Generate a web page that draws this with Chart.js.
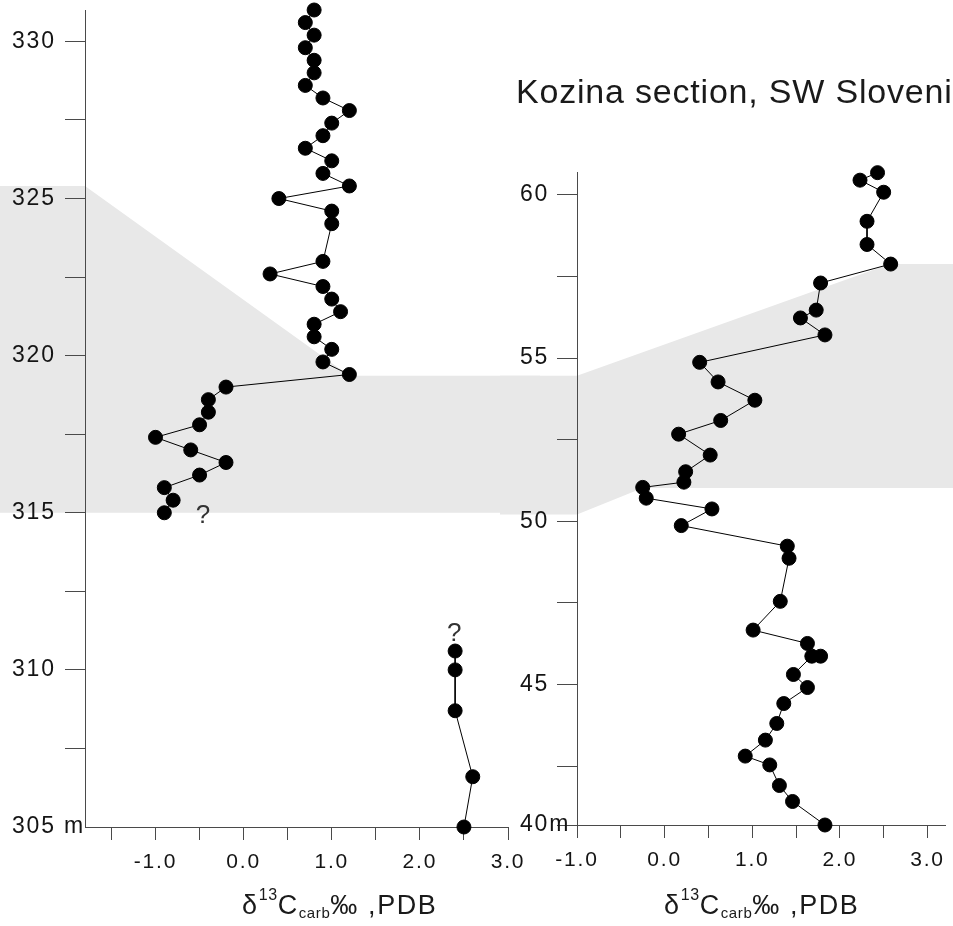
<!DOCTYPE html>
<html>
<head>
<meta charset="utf-8">
<script src="https://cdn.jsdelivr.net/npm/chart.js@4.4.1/dist/chart.umd.min.js"></script>
<style>
html, body { margin: 0; padding: 0; background: #fff; overflow: hidden; }
body { width: 953px; height: 926px; position: relative; font-family: "Liberation Sans", Arial, sans-serif; color: #1a1a1a; }
#leftChart { position: absolute; left: 0; top: 0; }
#rightChart { position: absolute; left: 500px; top: 0; }
.axis-title { position: absolute; top: 892px; font-size: 27px; line-height: 27px; letter-spacing: 1.6px; white-space: nowrap; }
.axis-title sup, .axis-title sub { line-height: 0; vertical-align: baseline; position: relative; letter-spacing: 0.6px; }
.axis-title sup { font-size: 16px; top: -14px; }
.axis-title sub { font-size: 15px; top: 4px; }
#sectionTitle { position: absolute; left: 516px; top: 74px; font-size: 34px; line-height: 34px; letter-spacing: 0.8px; white-space: nowrap; }
</style>
</head>
<body>
<canvas id="leftChart" width="540" height="926"></canvas>
<canvas id="rightChart" width="453" height="926"></canvas>
<div id="sectionTitle">Kozina section, SW Slovenia</div>
<div class="axis-title" style="left:242px">δ<sup>13</sup>C<sub>carb</sub>‰ ,PDB</div>
<div class="axis-title" style="left:664px">δ<sup>13</sup>C<sub>carb</sub>‰ ,PDB</div>
<script>
// left column, upper interval (m)
var upperDepth = [331.0, 330.6, 330.2, 329.8, 329.4, 329.0, 328.6, 328.2, 327.8, 327.4,
                  327.0, 326.6, 326.2, 325.8, 325.4, 325.0, 324.6, 324.2, 323.0, 322.6,
                  322.2, 321.8, 321.4, 321.0, 320.6, 320.2, 319.8, 319.4, 319.0, 318.6,
                  318.2, 317.8, 317.4, 317.0, 316.6, 316.2, 315.8, 315.4, 315.0];
var upperC13 = [0.8, 0.7, 0.8, 0.7, 0.8, 0.8, 0.7, 0.9, 1.2, 1.0,
                0.9, 0.7, 1.0, 0.9, 1.2, 0.4, 1.0, 1.0, 0.9, 0.3,
                0.9, 1.0, 1.1, 0.8, 0.8, 1.0, 0.9, 1.2, -0.2, -0.4,
                -0.4, -0.5, -1.0, -0.6, -0.2, -0.5, -0.9, -0.8, -0.9];

// left column, lower interval
var lowerDepth = [310.6, 310.0, 308.7, 306.6, 305.0];
var lowerC13 = [2.4, 2.4, 2.4, 2.6, 2.5];

// right column (m)
var rightDepth = [60.68, 60.45, 60.08, 59.19, 58.48, 57.88, 57.30, 56.47, 56.23, 55.71,
                  54.87, 54.27, 53.71, 53.09, 52.67, 52.03, 51.52, 51.20, 51.04, 50.71,
                  50.38, 49.87, 49.24, 48.87, 47.55, 46.67, 46.26, 45.87, 45.87, 45.31,
                  44.91, 44.42, 43.81, 43.30, 42.81, 42.54, 41.91, 41.42, 40.70];
var rightC13 = [2.43, 2.23, 2.50, 2.31, 2.31, 2.58, 1.78, 1.73, 1.55, 1.83,
                0.40, 0.61, 1.03, 0.64, 0.16, 0.52, 0.24, 0.22, -0.25, -0.21,
                0.54, 0.19, 1.40, 1.42, 1.32, 1.01, 1.63, 1.78, 1.68, 1.47,
                1.63, 1.36, 1.28, 1.15, 0.92, 1.20, 1.31, 1.46, 1.83];

var leftXTicks = [-1.5, -1.0, -0.5, 0.0, 0.5, 1.0, 1.5, 2.0, 2.5, 3.0];
var leftYTicks = [305, 307.5, 310, 312.5, 315, 317.5, 320, 322.5, 325, 327.5, 330];
var rightXTicks = [-1.0, -0.5, 0.0, 0.5, 1.0, 1.5, 2.0, 2.5, 3.0];
var rightYTicks = [40.7, 42.5, 45, 47.5, 50, 52.5, 55, 57.5, 60];

// grey interval outline, each in its own panel units [d13C, depth]
var leftBand = [[-3.0, 325.4], [-1.8, 325.4], [1.2, 319.36], [4.5, 319.36], [4.5, 315.0], [-3.0, 315.0]];
var rightBand = [[-2.0, 54.46], [-1.0, 54.46], [2.57, 57.88], [4.0, 57.88], [4.0, 51.02],
                 [-0.25, 51.02], [-1.0, 50.21], [-2.0, 50.21]];

// "?" notes on the left column
var queryX = [-0.46, 2.39];
var queryY = [314.9, 311.15];

var axisColor = '#4a4a4a';
var textColor = '#141414';
var fontFamily = '"Liberation Sans", Arial, sans-serif';
var tickSpacing = '1.8px';

function toPoints(depths, values) {
    var pts = [];
    for (var i = 0; i < depths.length; i++) {
        pts.push({ x: values[i], y: depths[i] });
    }
    return pts;
}

function series(depths, values) {
    return {
        data: toPoints(depths, values),
        showLine: true,
        borderColor: '#000',
        borderWidth: 1,
        pointRadius: 7,
        pointBorderWidth: 1,
        pointBackgroundColor: '#000',
        pointBorderColor: '#000',
        clip: false
    };
}

function makeSketch(band, notes) {
    return {
        id: 'sketch',
        beforeUpdate: function(chart) {
            chart.ctx.letterSpacing = tickSpacing;
        },
        beforeDraw: function(chart) {
            var ctx = chart.ctx, xs = chart.scales.x, ys = chart.scales.y;
            ctx.save();
            ctx.fillStyle = '#e8e8e8';
            ctx.beginPath();
            for (var i = 0; i < band.length; i++) {
                var px = xs.getPixelForValue(band[i][0]);
                var py = ys.getPixelForValue(band[i][1]);
                if (i === 0) ctx.moveTo(px, py); else ctx.lineTo(px, py);
            }
            ctx.closePath();
            ctx.fill();
            ctx.restore();
            ctx.letterSpacing = tickSpacing;
        },
        afterDatasetsDraw: function(chart) {
            if (!notes) return;
            var ctx = chart.ctx, xs = chart.scales.x, ys = chart.scales.y;
            ctx.save();
            ctx.letterSpacing = '0px';
            ctx.font = '26px ' + fontFamily;
            ctx.fillStyle = '#333';
            ctx.textAlign = 'center';
            ctx.textBaseline = 'middle';
            for (var i = 0; i < notes.x.length; i++) {
                ctx.fillText('?', xs.getPixelForValue(notes.x[i]), ys.getPixelForValue(notes.y[i]));
            }
            ctx.restore();
        }
    };
}

function buildOptions(cfg) {
    return {
        responsive: false,
        animation: false,
        events: [],
        layout: { padding: cfg.padding },
        plugins: { legend: { display: false }, tooltip: { enabled: false } },
        scales: {
            x: {
                type: 'linear',
                min: cfg.xMin,
                max: cfg.xMax,
                afterBuildTicks: function(scale) {
                    scale.ticks = cfg.xTicks.map(function(v) { return { value: v }; });
                },
                afterFit: function(scale) {
                    scale.height = cfg.xHeight;
                    scale.paddingLeft = 0;
                    scale.paddingRight = 0;
                },
                ticks: {
                    autoSkip: false,
                    maxRotation: 0,
                    padding: 10,
                    color: textColor,
                    font: { family: fontFamily, size: 21 },
                    callback: function(v) {
                        return Math.abs(v - Math.round(v)) < 1e-6 ? v.toFixed(1) : '';
                    }
                },
                grid: { drawOnChartArea: false, tickLength: 13, color: axisColor, tickColor: axisColor },
                border: { color: axisColor, width: 1 }
            },
            y: {
                type: 'linear',
                min: cfg.yMin,
                max: cfg.yMax,
                afterBuildTicks: function(scale) {
                    scale.ticks = cfg.yTicks.map(function(v) { return { value: v }; });
                },
                afterFit: function(scale) {
                    scale.width = cfg.yWidth;
                    scale.paddingTop = 0;
                    scale.paddingBottom = 0;
                },
                ticks: {
                    autoSkip: false,
                    crossAlign: 'far',
                    padding: 4,
                    color: textColor,
                    font: { family: fontFamily, size: 23 },
                    callback: cfg.yLabel
                },
                grid: {
                    drawOnChartArea: false,
                    tickLength: 20,
                    color: axisColor,
                    tickColor: cfg.yTickColor
                },
                border: { color: axisColor, width: 1 }
            }
        }
    };
}

new Chart(document.getElementById('leftChart'), {
    type: 'scatter',
    data: { datasets: [series(upperDepth, upperC13), series(lowerDepth, lowerC13)] },
    options: buildOptions({
        padding: { top: 10, right: 32, bottom: 0, left: 12 },
        xMin: -1.8, xMax: 3.0, xTicks: leftXTicks, xHeight: 99,
        yMin: 305, yMax: 331.0, yTicks: leftYTicks, yWidth: 73,
        yLabel: function(v) {
            if (v === 305) return '305 m';
            return v % 5 === 0 ? String(v) : '';
        },
        yTickColor: function(ctx) {
            return ctx.tick && ctx.tick.value === 305 ? 'rgba(0,0,0,0)' : axisColor;
        }
    }),
    plugins: [makeSketch(leftBand, { x: queryX, y: queryY })]
});

new Chart(document.getElementById('rightChart'), {
    type: 'scatter',
    data: { datasets: [series(rightDepth, rightC13)] },
    options: buildOptions({
        padding: { top: 172, right: 3, bottom: 0, left: 20 },
        xMin: -1.0, xMax: 3.2, xTicks: rightXTicks, xHeight: 101,
        yMin: 40.7, yMax: 60.7, yTicks: rightYTicks, yWidth: 57,
        yLabel: function(v) {
            if (v === 40.7) return '40m';
            return v % 5 === 0 ? String(v) : '';
        },
        yTickColor: axisColor
    }),
    plugins: [makeSketch(rightBand, null)]
});
</script>
</body>
</html>
